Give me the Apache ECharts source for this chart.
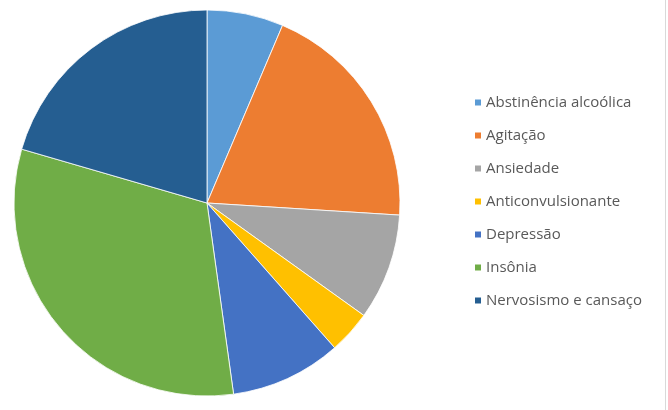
<!DOCTYPE html>
<html>
<head>
<meta charset="utf-8">
<script src="https://cdn.jsdelivr.net/npm/echarts@6/dist/echarts.min.js"></script>
<style>
  html, body { margin: 0; padding: 0; background: #fff; }
  #chart { width: 668px; height: 410px; }
</style>
</head>
<body>
<div id="chart"></div>
<script>
// Motivos de uso (percentual de respostas)
const categories = [
  'Abstinência alcoólica',
  'Agitação',
  'Ansiedade',
  'Anticonvulsionante',
  'Depressão',
  'Insônia',
  'Nervosismo e cansaço'
];
const values = [6.4, 19.6, 8.9, 3.6, 9.3, 31.7, 20.5];
const colors = ['#5B9BD5', '#ED7D31', '#A5A5A5', '#FFC000', '#4472C4', '#70AD47', '#255E91'];

const chart = echarts.init(document.getElementById('chart'), null, { renderer: 'canvas' });

chart.setOption({
  animation: false,
  color: colors,
  legend: {
    orient: 'vertical',
    left: 473,
    top: 95,
    padding: 0,
    itemWidth: 8,
    itemHeight: 8,
    itemGap: 18,
    icon: 'rect',
    textStyle: {
      fontFamily: 'Open Sans',
      fontSize: 15,
      color: '#595959',
      padding: [0, 0, 0, -1]
    },
    data: categories
  },
  graphic: [{
    type: 'line',
    shape: { x1: 665.5, y1: 0, x2: 665.5, y2: 410 },
    style: { stroke: '#d9d9d9', lineWidth: 1 }
  }],
  series: [{
    type: 'pie',
    center: [207, 203],
    radius: 193,
    startAngle: 90,
    clockwise: true,
    label: { show: false },
    labelLine: { show: false },
    itemStyle: { borderColor: '#ffffff', borderWidth: 0.8 },
    emphasis: { disabled: true },
    data: categories.map((name, i) => ({ name, value: values[i] }))
  }]
});
</script>
</body>
</html>
